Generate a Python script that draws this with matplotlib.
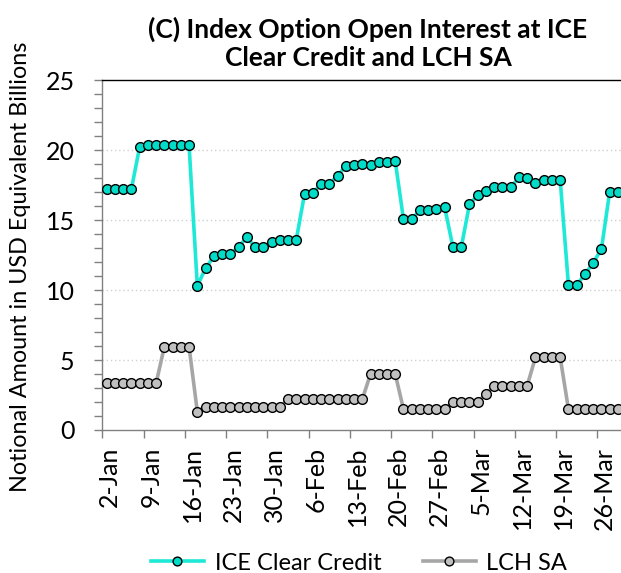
import numpy as np
import matplotlib.pyplot as plt
import matplotlib.transforms as mtransforms
from matplotlib.ticker import MultipleLocator, FixedLocator

plt.rcParams['font.family'] = ['Lato', 'DejaVu Sans']

# Business days, 2-Jan to 28-Mar; labels every 5 days
tick_labels = ['2-Jan', '9-Jan', '16-Jan', '23-Jan', '30-Jan', '6-Feb', '13-Feb',
               '20-Feb', '27-Feb', '5-Mar', '12-Mar', '19-Mar', '26-Mar']

ice_clear_credit = [17.2, 17.2, 17.2, 17.2, 20.2, 20.35, 20.35, 20.35, 20.35, 20.35,
                    20.35, 10.3, 11.55, 12.4, 12.6, 12.6, 13.05, 13.8, 13.05, 13.05,
                    13.4, 13.57, 13.57, 13.6, 16.86, 16.95, 17.55, 17.6, 18.14, 18.88,
                    18.93, 19.0, 18.93, 19.17, 19.12, 19.21, 15.05, 15.05, 15.71, 15.71,
                    15.76, 15.9, 13.05, 13.05, 16.12, 16.79, 17.1, 17.33, 17.33, 17.33,
                    18.05, 17.98, 17.62, 17.86, 17.86, 17.86, 10.36, 10.36, 11.14, 11.95,
                    12.93, 17.02, 17.02]

lch_sa = [3.33, 3.33, 3.33, 3.33, 3.33, 3.33, 3.33, 5.95, 5.95, 5.95,
          5.95, 1.31, 1.67, 1.67, 1.67, 1.67, 1.67, 1.67, 1.67, 1.67,
          1.67, 1.67, 2.19, 2.19, 2.19, 2.19, 2.19, 2.19, 2.19, 2.19,
          2.19, 2.19, 4.0, 4.0, 4.0, 4.0, 1.48, 1.48, 1.48, 1.48,
          1.48, 1.48, 2.02, 2.02, 2.02, 2.02, 2.57, 3.17, 3.17, 3.17,
          3.17, 3.17, 5.19, 5.19, 5.19, 5.19, 1.48, 1.48, 1.48, 1.48,
          1.48, 1.48, 1.48]

x = np.arange(len(ice_clear_credit))

fig = plt.figure(figsize=(6.21, 5.73), dpi=100)
ax = fig.add_axes([0.165, 0.2496, 0.8367, 0.6105])

ax.plot(x, ice_clear_credit, color='#1DE9D6', linewidth=2.6, marker='o',
        markersize=7, markerfacecolor='#00DCC8', markeredgecolor='black',
        markeredgewidth=1.0, label='ICE Clear Credit', zorder=3)
ax.plot(x, lch_sa, color='#A6A6A6', linewidth=2.6, marker='o',
        markersize=7, markerfacecolor='#C0C0C0', markeredgecolor='black',
        markeredgewidth=1.0, label='LCH SA', zorder=3)

ax.set_xlim(-0.5, 62.5)
ax.set_ylim(0, 25)

# y axis
ax.yaxis.set_major_locator(MultipleLocator(5))
ax.yaxis.set_minor_locator(MultipleLocator(1))
ax.tick_params(axis='y', which='both', direction='out', length=6, width=1,
               color='#808080', labelsize=18, pad=14)
for yv in [5, 10, 15, 20]:
    ax.axhline(yv, color='#D0D0D0', linestyle=(0, (1, 2)), linewidth=1, zorder=1)

# x axis: ticks between categories, labels on categories
ax.xaxis.set_major_locator(FixedLocator(np.arange(-0.5, 63, 5)))
ax.xaxis.set_minor_locator(FixedLocator(np.arange(0, 61, 5)))
ax.set_xticklabels([])
ax.set_xticklabels(tick_labels, minor=True, rotation=90)
ax.tick_params(axis='x', which='major', direction='out', length=6, width=1,
               color='#808080')
ax.tick_params(axis='x', which='minor', length=0, labelsize=18, pad=12)
shift = mtransforms.ScaledTranslation(3 / 100, 0, fig.dpi_scale_trans)
for lbl in ax.get_xticklabels(minor=True):
    lbl.set_transform(lbl.get_transform() + shift)

for s in ['left', 'bottom']:
    ax.spines[s].set_color('#808080')
    ax.spines[s].set_linewidth(1)
ax.spines['right'].set_visible(False)
ax.spines['top'].set_color('black')
ax.spines['top'].set_linewidth(1)

fig.text(21 / 621, 1 - 267 / 573, 'Notional Amount in USD Equivalent Billions',
         rotation=90, ha='center', va='center', fontsize=16.8)
fig.text(368 / 621, 1 - 43 / 573, '(C) Index Option Open Interest at ICE\nClear Credit and LCH SA',
         ha='center', va='center', fontsize=19, fontweight='bold', linespacing=1.2)

fig.legend(*ax.get_legend_handles_labels(), loc='center',
           bbox_to_anchor=(359 / 621, 1 - 563 / 573), ncol=2, frameon=False,
           fontsize=17, markerscale=0.9, handlelength=2.25, handletextpad=0.45,
           columnspacing=1.75)

fig.savefig('out.png', dpi=100)
